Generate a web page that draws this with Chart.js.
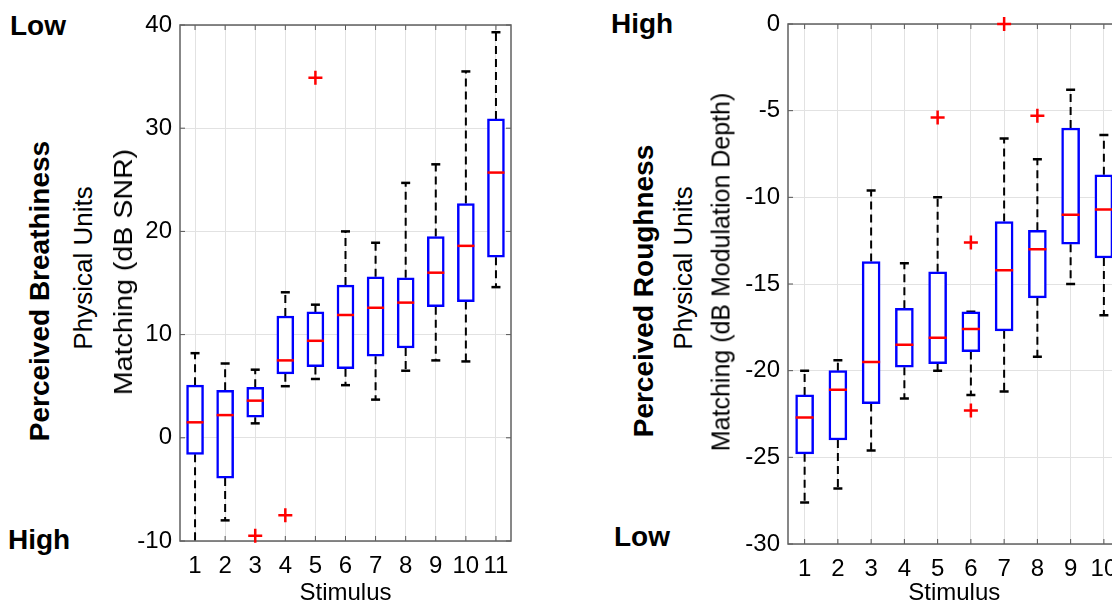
<!DOCTYPE html>
<html>
<head>
<meta charset="utf-8">
<script src="https://cdn.jsdelivr.net/npm/chart.js@4.4.1/dist/chart.umd.min.js"></script>
<style>
  html, body { margin: 0; padding: 0; background: #fff; width: 1112px; height: 608px; overflow: hidden; }
  .wrap { position: absolute; top: 0; height: 608px; }
  .lbl { position: absolute; font-family: "Liberation Sans", Arial, sans-serif; color: #000; white-space: nowrap; line-height: 1; z-index: 2; }
  .b { font-weight: bold; }
  .rot { transform: translate(-50%, -50%) rotate(-90deg); }
  .rot.wide { transform: translate(-50%, -50%) rotate(-90deg) scaleX(1.1); }
</style>
</head>
<body>
<div class="wrap" style="left:110px;width:412px"><canvas id="breath"></canvas></div>
<div class="wrap" style="left:710px;width:422px"><canvas id="rough"></canvas></div>

<div class="lbl b" style="left:10px;top:12px;font-size:28px">Low</div>
<div class="lbl b" style="left:8px;top:526px;font-size:28px">High</div>
<div class="lbl b rot" style="left:40px;top:291px;font-size:28px">Perceived Breathiness</div>
<div class="lbl rot" style="left:83px;top:268px;font-size:26px">Physical Units</div>
<div class="lbl rot wide" style="left:123px;top:272px;font-size:26px">Matching (dB SNR)</div>

<div class="lbl b" style="left:611px;top:10px;font-size:28px">High</div>
<div class="lbl b" style="left:614px;top:523px;font-size:28px">Low</div>
<div class="lbl b rot" style="left:644px;top:291px;font-size:28px">Perceived Roughness</div>
<div class="lbl rot" style="left:683px;top:268px;font-size:26px">Physical Units</div>
<div class="lbl rot" style="left:721px;top:272px;font-size:25px">Matching (dB Modulation Depth)</div>

<script>
// Breathiness panel (dB SNR)
const stimB = [1, 2, 3, 4, 5, 6, 7, 8, 9, 10, 11];
const breathMin = [-10.3, -8.0, 1.4, 5.0, 5.7, 5.1, 3.7, 6.5, 7.5, 7.4, 14.6];
const breathQ1 = [-1.6, -3.9, 2.0, 6.2, 6.9, 6.7, 7.9, 8.7, 12.7, 13.2, 17.5];
const breathMed = [1.5, 2.2, 3.6, 7.5, 9.4, 11.9, 12.6, 13.1, 16.0, 18.6, 25.7];
const breathQ3 = [5.1, 4.6, 4.9, 11.8, 12.2, 14.8, 15.6, 15.5, 19.5, 22.7, 30.9];
const breathMax = [8.2, 7.2, 6.6, 14.1, 12.9, 20.0, 18.9, 24.7, 26.5, 35.5, 39.3];
const breathOutX = [3, 4, 5];
const breathOutY = [-9.5, -7.5, 34.9];
const breathTicks = [-10, 0, 10, 20, 30, 40];

// Roughness panel (dB modulation depth)
const stimR = [1, 2, 3, 4, 5, 6, 7, 8, 9, 10];
const roughMin = [-27.6, -26.8, -24.6, -21.6, -20.0, -21.4, -21.2, -19.2, -15.0, -16.8];
const roughQ1 = [-24.8, -24.0, -21.9, -19.8, -19.6, -18.9, -17.7, -15.8, -12.7, -13.5];
const roughMed = [-22.7, -21.1, -19.5, -18.5, -18.1, -17.6, -14.2, -13.0, -11.0, -10.7];
const roughQ3 = [-21.4, -20.0, -13.7, -16.4, -14.3, -16.6, -11.4, -11.9, -6.0, -8.7];
const roughMax = [-20.0, -19.4, -9.6, -13.8, -10.0, -16.6, -6.6, -7.8, -3.8, -6.4];
const roughOutX = [5, 6, 6, 7, 8];
const roughOutY = [-5.4, -12.6, -22.3, 0.0, -5.3];
const roughTicks = [-30, -25, -20, -15, -10, -5, 0];

const FONT = '"Liberation Sans", Arial, sans-serif';

// marco del eje estilo MATLAB con marcas hacia dentro
const framePlugin = {
    id: 'frame',
    beforeDatasetsDraw(chart) {
        const { ctx, chartArea: a, scales } = chart;
        ctx.save();
        ctx.strokeStyle = '#555';
        ctx.lineWidth = 1;
        scales.x.ticks.forEach(t => {
            const px = scales.x.getPixelForValue(t.value);
            ctx.beginPath();
            ctx.moveTo(px, a.bottom); ctx.lineTo(px, a.bottom - 5);
            ctx.moveTo(px, a.top); ctx.lineTo(px, a.top + 5);
            ctx.stroke();
        });
        scales.y.ticks.forEach(t => {
            const py = scales.y.getPixelForValue(t.value);
            ctx.beginPath();
            ctx.moveTo(a.left, py); ctx.lineTo(a.left + 5, py);
            ctx.moveTo(a.right, py); ctx.lineTo(a.right - 5, py);
            ctx.stroke();
        });
        ctx.strokeStyle = '#606060';
        ctx.lineWidth = 1.5;
        ctx.strokeRect(a.left, a.top, a.right - a.left, a.bottom - a.top);
        ctx.restore();
    }
};

function buildBoxChart(id, cfg) {
    const { stim, lo, q1, med, q3, hi, outX, outY, yTicks, boxPx, yWidth, xHeight, top } = cfg;

    const whiskers = [];
    const caps = [];
    stim.forEach((s, i) => {
        whiskers.push({ x: s, y: q3[i] }, { x: s, y: hi[i] }, { x: s, y: null });
        whiskers.push({ x: s, y: q1[i] }, { x: s, y: lo[i] }, { x: s, y: null });
        caps.push({ x: s, y: hi[i] }, { x: s, y: lo[i] });
    });

    new Chart(document.getElementById(id), {
        type: 'bar',
        data: {
            datasets: [
                {
                    type: 'line',
                    data: whiskers,
                    borderColor: '#000',
                    borderWidth: 2,
                    borderDash: [8, 5],
                    pointRadius: 0,
                    spanGaps: false,
                    clip: 0,
                    order: 4
                },
                {
                    type: 'scatter',
                    data: caps,
                    pointStyle: 'line',
                    pointRadius: 4.5,
                    borderColor: '#000',
                    borderWidth: 2.5,
                    clip: 0,
                    order: 3
                },
                {
                    type: 'bar',
                    data: stim.map((s, i) => ({ x: s, y: [q1[i], q3[i]] })),
                    backgroundColor: '#fff',
                    borderColor: '#0000ff',
                    borderWidth: 2.5,
                    borderSkipped: false,
                    barThickness: boxPx,
                    order: 2
                },
                {
                    type: 'scatter',
                    data: stim.map((s, i) => ({ x: s, y: med[i] })),
                    pointStyle: 'line',
                    pointRadius: boxPx / 2,
                    borderColor: '#ff0000',
                    borderWidth: 2.5,
                    order: 1
                },
                {
                    type: 'scatter',
                    data: outX.map((s, i) => ({ x: s, y: outY[i] })),
                    pointStyle: 'cross',
                    pointRadius: 7,
                    borderColor: '#ff0000',
                    borderWidth: 2.5,
                    clip: false,
                    order: 0
                }
            ]
        },
        options: {
            responsive: true,
            maintainAspectRatio: false,
            animation: false,
            events: [],
            layout: { padding: { top: top, right: 10, left: 0, bottom: 0 } },
            plugins: { legend: { display: false }, tooltip: { enabled: false } },
            scales: {
                x: {
                    type: 'linear',
                    min: 0.5,
                    max: stim.length + 0.5,
                    offset: false,
                    afterBuildTicks: s => { s.ticks = stim.map(v => ({ value: v })); },
                    afterFit: s => { s.height = xHeight; },
                    grid: { color: '#e2e2e2', drawTicks: false, offset: false },
                    border: { display: false },
                    ticks: { color: '#000', padding: 11, font: { family: FONT, size: 24 } },
                    title: {
                        display: true,
                        text: 'Stimulus',
                        color: '#000',
                        padding: { top: 0, bottom: 0 },
                        font: { family: FONT, size: 24 }
                    }
                },
                y: {
                    min: yTicks[0],
                    max: yTicks[yTicks.length - 1],
                    afterBuildTicks: s => { s.ticks = yTicks.map(v => ({ value: v })); },
                    afterFit: s => { s.width = yWidth; },
                    grid: { color: '#e2e2e2', drawTicks: false },
                    border: { display: false },
                    ticks: { color: '#000', padding: 8, font: { family: FONT, size: 24 } }
                }
            }
        },
        plugins: [framePlugin]
    });
}

buildBoxChart('breath', {
    stim: stimB, lo: breathMin, q1: breathQ1, med: breathMed, q3: breathQ3, hi: breathMax,
    outX: breathOutX, outY: breathOutY, yTicks: breathTicks,
    boxPx: 17, yWidth: 70, xHeight: 67, top: 25
});

buildBoxChart('rough', {
    stim: stimR, lo: roughMin, q1: roughQ1, med: roughMed, q3: roughQ3, hi: roughMax,
    outX: roughOutX, outY: roughOutY, yTicks: roughTicks,
    boxPx: 18, yWidth: 78, xHeight: 64, top: 24
});
</script>
</body>
</html>
